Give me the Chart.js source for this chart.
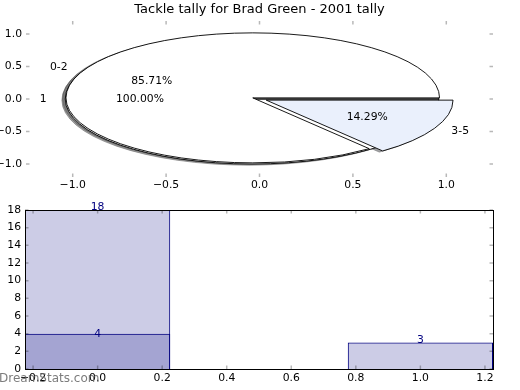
<!DOCTYPE html>
<html>
<head>
<meta charset="utf-8">
<script src="https://cdn.jsdelivr.net/npm/chart.js@4.4.1/dist/chart.umd.min.js"></script>
<style>
html, body { margin: 0; padding: 0; background: #ffffff; }
#wrap { position: relative; width: 520px; height: 390px; overflow: hidden; }
#pieBox { position: absolute; left: 0; top: 0; width: 520px; height: 200px; }
#barBox { position: absolute; left: 0; top: 200px; width: 520px; height: 190px; }
#wm { position: absolute; left: -1px; top: 371px; font: 12px "DejaVu Sans"; line-height: 14px;
      color: rgba(110,110,110,0.9); white-space: nowrap; }
</style>
</head>
<body>
<div id="wrap">
  <div id="pieBox"><canvas id="pie" width="520" height="200"></canvas></div>
  <div id="barBox"><canvas id="bar" width="520" height="190"></canvas></div>
  <div id="wm">DreamStats.com</div>
</div>
<script>
// ---------------- data ----------------
const chartTitle = "Tackle tally for Brad Green - 2001 tally";
const groupLabels = ["0-2", "3-5"];     // outer pie slices / bar categories
const groupTallies = [18, 3];
const groupPositions = [0, 1];
const subLabels = ["1"];                // second (overlaid) pie / bar series
const subTallies = [4];
const subPositions = [0];
const pieXTicks = [-1.0, -0.5, 0.0, 0.5, 1.0];
const pieYTicks = [-1.0, -0.5, 0.0, 0.5, 1.0];
const barXTicks = [-0.2, 0.0, 0.2, 0.4, 0.6, 0.8, 1.0, 1.2];
const barYTicks = [0, 2, 4, 6, 8, 10, 12, 14, 16, 18];

// ---------------- style ----------------
const FONT = '"DejaVu Sans"';
Chart.defaults.font.family = FONT;
Chart.defaults.color = '#000000';
const NAVY = '#000080';
const BAR_FILL = 'rgba(0,0,128,0.2)';
const PIE_SUB_COLORS = ['#ffffff'];
const PIE_GROUP_COLORS = ['#ffffff', '#eaf0fc'];
const EXPLODE = 0.04, SHADOW_OFF = -0.018, LABEL_D = 1.1, PCT_D = 0.6, RADIUS = 1;
const BAR_WIDTH = 0.45;

function fmt1(v) { return (v < 0 ? '\u2212' : '') + Math.abs(v).toFixed(1); }

// tick marks on all four sides, pointing inward
const tickMarks = {
  id: 'tickMarks',
  afterDraw(chart) {
    const { ctx, chartArea: a, scales: { x, y } } = chart;
    const L = 3.5;
    ctx.save();
    ctx.strokeStyle = 'rgba(0,0,0,0.28)';
    ctx.lineWidth = 1.5;
    ctx.beginPath();
    x.ticks.forEach(t => {
      const p = x.getPixelForValue(t.value);
      ctx.moveTo(p, a.top); ctx.lineTo(p, a.top + L);
      ctx.moveTo(p, a.bottom); ctx.lineTo(p, a.bottom - L);
    });
    y.ticks.forEach(t => {
      const p = y.getPixelForValue(t.value);
      ctx.moveTo(a.left, p); ctx.lineTo(a.left + L, p);
      ctx.moveTo(a.right, p); ctx.lineTo(a.right - L, p);
    });
    ctx.stroke();
    ctx.restore();
  }
};

// ---------------- pie drawn through the axes ----------------
const pies = [
  { labels: subLabels, values: subTallies, colors: PIE_SUB_COLORS },
  { labels: groupLabels, values: groupTallies, colors: PIE_GROUP_COLORS }
];

function buildWedges() {
  const out = [];
  pies.forEach(p => {
    const total = p.values.reduce((s, v) => s + v, 0);
    let t1 = 0;
    p.values.forEach((v, i) => {
      const t2 = t1 + v / total;
      const tm = Math.PI * (t1 + t2);
      out.push({
        cx: EXPLODE * Math.cos(tm), cy: EXPLODE * Math.sin(tm),
        a1: 2 * Math.PI * t1, a2: 2 * Math.PI * t2, tm,
        frac: v / total, label: p.labels[i], color: p.colors[i]
      });
      t1 = t2;
    });
  });
  return out;
}

function wedgePath(ctx, xs, ys, w, d) {
  const px = xs.getPixelForValue(w.cx + d), py = ys.getPixelForValue(w.cy + d);
  const rx = xs.getPixelForValue(RADIUS) - xs.getPixelForValue(0);
  const ry = ys.getPixelForValue(0) - ys.getPixelForValue(RADIUS);
  ctx.beginPath();
  ctx.moveTo(px, py);
  ctx.lineTo(px + rx * Math.cos(w.a1), py - ry * Math.sin(w.a1));
  ctx.ellipse(px, py, rx, ry, 0, -w.a1, -w.a2, true);
  ctx.closePath();
}

function shade(hex) {
  const n = parseInt(hex.slice(1), 16);
  const r = Math.round(((n >> 16) & 255) * 0.3), g = Math.round(((n >> 8) & 255) * 0.3), b = Math.round((n & 255) * 0.3);
  return `rgba(${r},${g},${b},0.5)`;
}

const piePlugin = {
  id: 'piePlugin',
  afterDatasetsDraw(chart) {
    const { ctx, scales: { x, y } } = chart;
    const wedges = buildWedges();
    ctx.save();
    ctx.lineJoin = 'round';
    // shadows first
    wedges.forEach(w => {
      wedgePath(ctx, x, y, w, SHADOW_OFF);
      ctx.fillStyle = shade(w.color);
      ctx.strokeStyle = shade(w.color);
      ctx.lineWidth = 0.9;
      ctx.fill(); ctx.stroke();
    });
    // wedges
    wedges.forEach(w => {
      wedgePath(ctx, x, y, w, 0);
      ctx.fillStyle = w.color;
      ctx.strokeStyle = '#000000';
      ctx.lineWidth = 0.9;
      ctx.fill(); ctx.stroke();
    });
    // texts
    ctx.fillStyle = '#000000';
    ctx.font = '10.8px ' + FONT;
    ctx.textBaseline = 'middle';
    wedges.forEach(w => {
      const lx = w.cx + LABEL_D * RADIUS * Math.cos(w.tm);
      const ly = w.cy + LABEL_D * RADIUS * Math.sin(w.tm);
      ctx.textAlign = lx > 0 ? 'left' : 'right';
      ctx.fillText(w.label, x.getPixelForValue(lx), y.getPixelForValue(ly));
      const qx = w.cx + PCT_D * RADIUS * Math.cos(w.tm);
      const qy = w.cy + PCT_D * RADIUS * Math.sin(w.tm);
      ctx.textAlign = 'center';
      ctx.fillText((w.frac * 100).toFixed(2) + '%', x.getPixelForValue(qx), y.getPixelForValue(qy));
    });
    ctx.restore();
  }
};

new Chart(document.getElementById('pie'), {
  type: 'scatter',
  data: { datasets: [{ data: [] }] },
  plugins: [piePlugin, tickMarks],
  options: {
    responsive: false,
    animation: false,
    layout: { padding: { left: 0, right: 27, top: 0, bottom: 0 } },
    plugins: {
      legend: { display: false },
      tooltip: { enabled: false },
      title: {
        display: true, text: chartTitle, fullSize: false, color: '#000000',
        font: { size: 13, weight: 'normal', family: FONT, lineHeight: 1.2 },
        padding: { top: 2, bottom: 3.4 }
      }
    },
    scales: {
      x: {
        type: 'linear', min: -1.25, max: 1.25,
        afterBuildTicks: s => { s.ticks = pieXTicks.map(v => ({ value: v })); },
        afterFit: s => { s.height = 23; },
        grid: { display: false, drawTicks: false },
        border: { display: false },
        ticks: { padding: 2, autoSkip: false, maxRotation: 0, font: { size: 10.8, family: FONT }, color: '#000', callback: v => fmt1(v) }
      },
      y: {
        type: 'linear', min: -1.2, max: 1.2,
        afterBuildTicks: s => { s.ticks = pieYTicks.map(v => ({ value: v })); },
        afterFit: s => { s.width = 26; },
        grid: { display: false, drawTicks: false },
        border: { display: false },
        ticks: { padding: 4, autoSkip: false, font: { size: 10.8, family: FONT, lineHeight: 1.0 }, color: '#000', callback: v => fmt1(v) }
      }
    }
  }
});

// ---------------- bar chart ----------------
const frame = {
  id: 'frame',
  afterDraw(chart) {
    const { ctx, chartArea: a } = chart;
    ctx.save();
    ctx.strokeStyle = '#000000';
    ctx.lineWidth = 1;
    ctx.strokeRect(a.left + 0.5, a.top + 0.5, a.right - a.left, a.bottom - a.top);
    ctx.restore();
  }
};

const barLabels = {
  id: 'barLabels',
  afterDatasetsDraw(chart) {
    const ctx = chart.ctx;
    ctx.save();
    ctx.font = '10.8px ' + FONT;
    ctx.fillStyle = NAVY;
    ctx.textAlign = 'center';
    ctx.textBaseline = 'alphabetic';
    chart.data.datasets.forEach((ds, di) => {
      const meta = chart.getDatasetMeta(di);
      meta.data.forEach((el, j) => {
        ctx.fillText(String(ds.data[j].y), el.x, el.y + (di === 0 ? 0 : 3.5));
      });
    });
    ctx.restore();
  }
};

// non-grouped bars are sized from the smallest spacing on the x scale (the tick step)
const tickStep = barXTicks[1] - barXTicks[0];

new Chart(document.getElementById('bar'), {
  type: 'bar',
  data: {
    datasets: [
      {
        label: 'tallies',
        data: groupPositions.map((p, i) => ({ x: p, y: groupTallies[i] })),
        backgroundColor: BAR_FILL, borderColor: NAVY, borderWidth: 1,
        grouped: false, categoryPercentage: 1, barPercentage: BAR_WIDTH / tickStep
      },
      {
        label: 'sub',
        data: subPositions.map((p, i) => ({ x: p, y: subTallies[i] })),
        backgroundColor: BAR_FILL, borderColor: NAVY, borderWidth: 1,
        grouped: false, categoryPercentage: 1, barPercentage: BAR_WIDTH / tickStep
      }
    ]
  },
  plugins: [barLabels, frame, tickMarks],
  options: {
    responsive: false,
    animation: false,
    layout: { padding: { left: 0, right: 27, top: 10, bottom: 0 } },
    plugins: { legend: { display: false }, tooltip: { enabled: false }, title: { display: false } },
    scales: {
      x: {
        type: 'linear', min: -0.225, max: 1.225, offset: false,
        afterBuildTicks: s => { s.ticks = barXTicks.map(v => ({ value: v })); },
        afterFit: s => { s.height = 21; },
        grid: { display: false, drawTicks: false, offset: false },
        border: { display: false },
        ticks: { padding: 3, autoSkip: false, maxRotation: 0, font: { size: 10.8, family: FONT }, color: '#000', callback: v => fmt1(v) }
      },
      y: {
        type: 'linear', min: 0, max: 18,
        afterBuildTicks: s => { s.ticks = barYTicks.map(v => ({ value: v })); },
        afterFit: s => { s.width = 25; },
        grid: { display: false, drawTicks: false },
        border: { display: false },
        ticks: { padding: 4, autoSkip: false, font: { size: 10.8, family: FONT, lineHeight: 1.0 }, color: '#000', callback: v => String(v) }
      }
    }
  }
});
</script>
</body>
</html>
